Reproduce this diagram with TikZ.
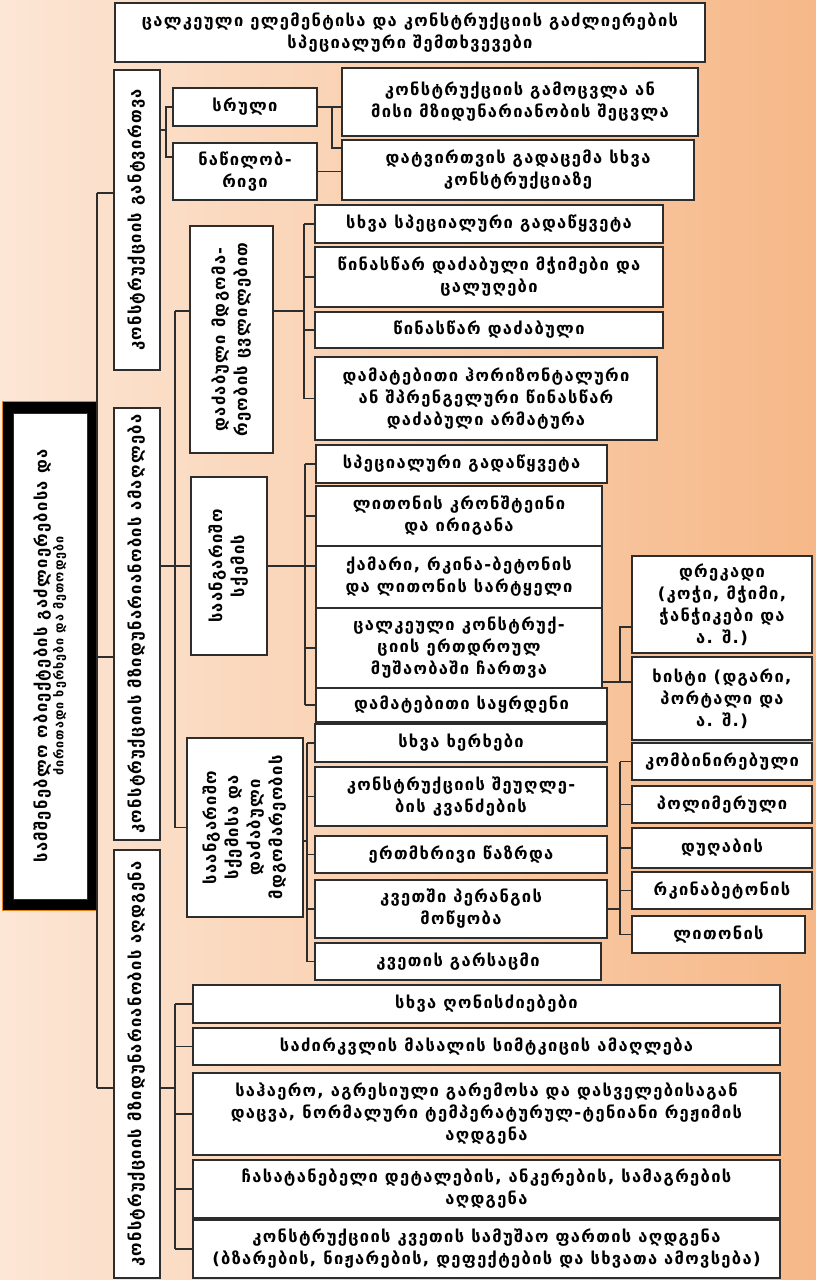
\documentclass[tikz,border=0pt]{standalone}
\usepackage{fontspec}
\setmainfont{DejaVu Sans}[LetterSpace=8]
\usetikzlibrary{calc}

\definecolor{bgL}{RGB}{252,230,213}
\definecolor{bgR}{RGB}{246,184,136}
\definecolor{edge}{RGB}{45,45,45}

\tikzset{
  box/.style={draw=edge, fill=white, line width=1.1pt, inner sep=1pt, outer sep=0pt,
              align=center, font=\bfseries\fontsize{16.5}{22}\selectfont},
  vtext/.style={rotate=90, align=center, inner sep=0pt, font=\bfseries\fontsize{16.5}{22}\selectfont},
  link/.style={draw=edge, line width=1.1pt}
}

% box from (x1,y1) to (x2,y2): [options]{name}{x1}{y1}{x2}{y2}{text}
\newcommand\bx[7][]{\node[box,#1,minimum width={(#5)-(#3)},minimum height={(#6)-(#4)}]
  (#2) at ({((#3)+(#5))/2},{((#4)+(#6))/2}) {#7};}
% text written upwards in the middle of a box
\newcommand\vt[2]{\node[vtext] at (#1) {#2};}

\begin{document}
\begin{tikzpicture}[x=1pt,y=-1pt]
\useasboundingbox (0,0) rectangle (816,1280);
\shade[left color=bgL, right color=bgR] (0,0) rectangle (816,1280);

% ---------- heading ----------
\bx{title}{115}{3}{705}{62}{ცალკეული ელემენტისა და კონსტრუქციის გაძლიერების\\სპეციალური შემთხვევები}

% ---------- main framed box ----------
\node[draw=orange!60!brown, line width=0.8pt, fill=black, minimum width=95, minimum height=509, inner sep=0pt, outer sep=0pt]
  (main) at (49.5,656) {};
\node[fill=white, draw=edge, line width=0.6pt, minimum width=74, minimum height=486, inner sep=0pt] (mainin) at ($(main)+(0.5,0)$) {};
\node[rotate=90, align=center, inner sep=0pt] at (mainin)
  {{\bfseries\fontsize{16.5}{20}\selectfont სამშენებლო ობიექტების გაძლიერებისა და}\\[1pt]
   {\bfseries\fontsize{12.5}{14}\selectfont ძირითადი ხერხები და მეთოდები}};

% ---------- three main branches ----------
\bx{sA}{114}{70}{160}{370}{}   \vt{sA}{კონსტრუქციის განტვირთვა}
\bx{sB}{114}{408}{160}{840}{}  \vt{sB}{კონსტრუქციის მზიდუნარიანობის ამაღლება}
\bx{sC}{114}{850}{160}{1278}{} \vt{sC}{კონსტრუქციის მზიდუნარიანობის აღდგენა}

\coordinate (jA) at (97,193);
\coordinate (jB) at (97,657);
\coordinate (jC) at (97,1088);
\draw[link] (jA) -- (jC);
\draw[link] (jA) -- (jA -| sA.west);
\draw[link] (jB) -- (jB -| sB.west);
\draw[link] (jC) -- (jC -| sC.west);

% ---------- unloading ----------
\bx{full}{173}{88}{317}{126}{სრული}
\bx{part}{173}{143}{317}{200}{ნაწილობ-\\რივი}
\bx{a1}{342}{68}{698}{136}{კონსტრუქციის გამოცვლა ან\\მისი მზიდუნარიანობის შეცვლა}
\bx{a2}{342}{140}{694}{200}{დატვირთვის გადაცემა სხვა\\კონსტრუქციაზე}

\coordinate (kA) at (166,130);
\coordinate (kAb) at (166,157);
\coordinate (kB) at (332,0);
\draw[link] (kA -| sA.east) -- (kA);
\draw[link] (full.west) -| (kAb) -- (kAb -| part.west);
\draw[link] (full.east) -- (full.east -| a1.west);
\draw[link] (full.east -| kB) |- ($(a2.north west)+(0,8)$);
\draw[link] (part.east) -- (part.east -| a2.west);

% ---------- strengthening ----------
\bx{g1}{190}{226}{273}{453}{} \vt{g1}{დაძაბული მდგომა-\\რეობის ცვლილებით}
\bx{g2}{191}{477}{267}{655}{} \vt{g2}{საანგარიშო\\სქემის}
\bx{g3}{187}{738}{303}{917}{} \vt{g3}{საანგარიშო\\სქემისა და\\დაძაბული\\მდგომარეობის}

\coordinate (kS) at (175,0);
\coordinate (jg1) at ($(g1.north west)+(0,85)$);
\draw[link] (kS |- jg1) -- (kS |- g3.west);
\draw[link] (kS |- g2.west) -- (sB.east |- g2.west);
\draw[link] (kS |- jg1) -- (jg1);
\draw[link] (kS |- g2.west) -- (g2.west);
\draw[link] (kS |- g3.west) -- (g3.west);

% stressed state
\bx{b11}{315}{205}{663}{243}{სხვა სპეციალური გადაწყვეტა}
\bx{b12}{315}{247}{663}{307}{წინასწარ დაძაბული მჭიმები და\\ცალუღები}
\bx{b13}{315}{312}{663}{348}{წინასწარ დაძაბული}
\bx{b14}{315}{357}{657}{440}{დამატებითი ჰორიზონტალური\\ან შპრენგელური წინასწარ\\დაძაბული არმატურა}
\coordinate (k1) at (304,0);
\draw[link] (k1 |- b11.west) -- (k1 |- b14.west);
\foreach \n in {b11,b12,b13,b14} \draw[link] (k1 |- \n.west) -- (\n.west);
\draw[link] (jg1 -| g1.east) -- (jg1 -| k1);

% design scheme
\bx{b21}{316}{445}{607}{483}{სპეციალური გადაწყვეტა}
\bx{b22}{316}{486}{602}{546}{ლითონის კრონშტეინი\\და ირიგანა}
\bx{b23}{316}{546}{602}{608}{ქამარი, რკინა-ბეტონის\\და ლითონის სარტყელი}
\bx{b24}{316}{608}{602}{688}{ცალკეული კონსტრუქ-\\ციის ერთდროულ\\მუშაობაში ჩართვა}
\bx{b25}{316}{688}{607}{722}{დამატებითი საყრდენი}
\coordinate (k2) at (305,0);
\draw[link] (k2 |- b21.west) -- (k2 |- b25.west);
\foreach \n in {b21,b22,b24,b25} \draw[link] (k2 |- \n.west) -- (\n.west);
\draw[link] (g2.east) -- (g2.east -| b23.west);

\bx{c1}{632}{556}{812}{653}{დრეკადი\\(კოჭი, მჭიმი,\\ჭანჭიკები და\\ა. შ.)}
\bx{c2}{632}{657}{812}{740}{ხისტი (დგარი,\\პორტალი და\\ა. შ.)}
\coordinate (kR) at (620,0);
\coordinate (j24) at ($(b24.south east)+(0,-6)$);
\coordinate (jc1) at ($(c1.north west)+(0,71)$);
\draw[link] (j24) -- (j24 -| c2.west);
\draw[link] (j24 -| kR) |- (jc1);

% scheme and stressed state
\bx{b31}{315}{724}{607}{762}{სხვა ხერხები}
\bx{b32}{315}{767}{607}{826}{კონსტრუქციის შეუღლე-\\ბის კვანძების}
\bx{b33}{315}{836}{607}{873}{ერთმხრივი წაზრდა}
\bx{b34}{315}{880}{607}{938}{კვეთში პერანგის\\მოწყობა}
\bx{b35}{315}{943}{601}{980}{კვეთის გარსაცმი}
\coordinate (k3) at (307,0);
\coordinate (jg3) at ($(g3.north east)+(0,103)$);
\draw[link] (k3 |- b31.west) -- (k3 |- b35.west);
\foreach \n in {b31,b32,b33,b34,b35} \draw[link] (k3 |- \n.west) -- (\n.west);
\draw[link] (jg3) -- (jg3 -| k3);

\bx{d1}{632}{743}{812}{780}{კომბინირებული}
\bx{d2}{632}{786}{812}{823}{პოლიმერული}
\bx{d3}{632}{828}{812}{868}{დუღაბის}
\bx{d4}{632}{872}{812}{909}{რკინაბეტონის}
\bx{d5}{632}{916}{805}{953}{ლითონის}
\draw[link] (kR |- d1.west) -- (kR |- d5.west);
\foreach \n in {d1,d2,d3,d4,d5} \draw[link] (kR |- \n.west) -- (\n.west);
\draw[link] (b34.east) -- (b34.east -| kR);

% ---------- restoration ----------
\bx{e1}{193}{985}{780}{1023}{სხვა ღონისძიებები}
\bx{e2}{193}{1028}{780}{1065}{საძირკვლის მასალის სიმტკიცის ამაღლება}
\bx{e3}{193}{1073}{780}{1155}{საჰაერო, აგრესიული გარემოსა და დასველებისაგან\\დაცვა, ნორმალური ტემპერატურულ-ტენიანი რეჟიმის\\აღდგენა}
\bx{e4}{193}{1160}{780}{1218}{ჩასატანებელი დეტალების, ანკერების, სამაგრების\\აღდგენა}
\bx{e5}{193}{1220}{780}{1278}{კონსტრუქციის კვეთის სამუშაო ფართის აღდგენა\\(ბზარების, ნიჟარების, დეფექტების და სხვათა ამოვსება)}
\coordinate (k4) at (175,0);
\draw[link] (k4 |- e1.west) -- (k4 |- e5.west);
\foreach \n in {e1,e2,e3,e4,e5} \draw[link] (k4 |- \n.west) -- (\n.west);
\draw[link] (jC -| sC.east) -- (jC -| k4);
\end{tikzpicture}
\end{document}
